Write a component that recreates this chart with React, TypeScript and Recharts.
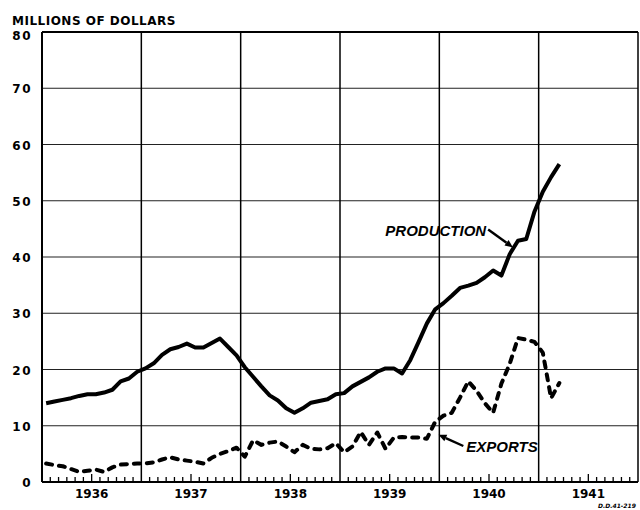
import { LineChart, Line, XAxis, YAxis, CartesianGrid, ReferenceLine } from 'recharts';

// Monthly values, Jan 1936 .. Mar 1941 (millions of dollars)
const production = [
  14.0, 14.3, 14.6, 14.9, 15.3, 15.6, 15.6, 15.9, 16.4, 17.9, 18.4, 19.6,
  20.2, 21.1, 22.6, 23.6, 24.0, 24.6, 23.9, 23.9, 24.7, 25.5, 24.0, 22.5,
  20.4, 18.7, 17.0, 15.4, 14.5, 13.1, 12.3, 13.1, 14.1, 14.4, 14.7, 15.6,
  15.8, 17.0, 17.8, 18.6, 19.6, 20.2, 20.2, 19.3, 21.7, 24.9, 28.2, 30.7,
  31.8, 33.1, 34.5, 34.9, 35.4, 36.4, 37.6, 36.7, 40.5, 42.9, 43.2, 48.1,
  51.6, 54.2, 56.5,
];

const exports = [
  3.3, 3.0, 2.8, 2.3, 1.8, 2.0, 2.2, 1.8, 2.6, 3.1, 3.2, 3.3,
  3.3, 3.5, 4.0, 4.4, 4.0, 3.8, 3.6, 3.3, 4.3, 5.0, 5.5, 6.1,
  4.5, 7.4, 6.6, 7.0, 7.2, 6.3, 5.3, 6.6, 5.9, 5.8, 6.0, 6.9,
  5.3, 6.3, 8.9, 6.6, 8.8, 5.9, 7.9, 8.0, 7.9, 7.9, 7.7, 10.7,
  11.8, 12.3, 15.0, 17.9, 16.2, 14.0, 12.3, 17.5, 21.0, 25.6, 25.3, 24.9,
  23.0, 14.9, 17.6,
];

const years = ['1936', '1937', '1938', '1939', '1940', '1941'];
const yTicks = [0, 10, 20, 30, 40, 50, 60, 70, 80];
const monthTicks = Array.from({ length: 73 }, (_, i) => i);
const yearBounds = [12, 24, 36, 48, 60];

// x is months since Jan 1936, plotted at the middle of each month
const data = production.map((p, i) => ({ m: i + 0.5, production: p, exports: exports[i] }));

const FONT = '"DejaVu Sans", sans-serif';

function MonthTick(props: any) {
  const { x, y, payload } = props;
  const v = payload.value as number;
  const mid = v % 12 === 6;
  const edge = v % 12 === 0;
  return (
    <g>
      {!edge && (
        <line x1={x} x2={x} y1={y} y2={y - (mid ? 8 : 5)} stroke="#000" strokeWidth={1.3} />
      )}
      {mid && (
        <text
          x={x}
          y={y + 16}
          textAnchor="middle"
          fontFamily={FONT}
          fontWeight="bold"
          fontSize={12}
          fill="#000"
        >
          {years[Math.floor(v / 12)]}
        </text>
      )}
    </g>
  );
}

function ValueTick(props: any) {
  const { x, y, payload } = props;
  return (
    <text
      x={x}
      y={y + (payload.value === 80 ? 4 : 1)}
      dy="0.35em"
      textAnchor="end"
      fontFamily={FONT}
      fontWeight="bold"
      fontSize={12}
      letterSpacing={1.5}
      fill="#000"
    >
      {payload.value}
    </text>
  );
}

// annotation: label text + arrow pointing at the series
function arrowShape(label: string, side: 'left' | 'right') {
  return (p: any) => {
    const { x1, y1, x2, y2 } = p;
    const ang = Math.atan2(y2 - y1, x2 - x1);
    const len = 8;
    const w = 3.5;
    const bx = x2 - len * Math.cos(ang);
    const by = y2 - len * Math.sin(ang);
    const px = -Math.sin(ang) * w;
    const py = Math.cos(ang) * w;
    return (
      <g>
        <line x1={x1} y1={y1} x2={bx} y2={by} stroke="#000" strokeWidth={2.4} />
        <polygon points={`${x2},${y2} ${bx + px},${by + py} ${bx - px},${by - py}`} fill="#000" />
        <text
          x={side === 'left' ? x1 - 2 : x1 + 3}
          y={y1 + 1}
          dy="0.35em"
          textAnchor={side === 'left' ? 'end' : 'start'}
          fontFamily='"Liberation Sans", Arial, sans-serif'
          fontStyle="italic"
          fontWeight="bold"
          fontSize={15}
          fill="#000"
        >
          {label}
        </text>
      </g>
    );
  };
}

export default function App() {
  return (
    <div style={{ position: 'absolute', left: 0, top: 0, width: 640, height: 510, background: '#fff' }}>
      <div
        style={{
          position: 'absolute',
          left: 12,
          top: 14,
          fontFamily: FONT,
          fontWeight: 'bold',
          fontSize: 12,
          letterSpacing: 0.5,
          lineHeight: '14px',
        }}
      >
        MILLIONS OF DOLLARS
      </div>
      <LineChart
        width={640}
        height={510}
        data={data}
        margin={{ top: 32, right: 2, bottom: 0, left: 0 }}
      >
        <CartesianGrid vertical={false} stroke="#222" strokeWidth={1.2} />
        {yearBounds.map((b) => (
          <ReferenceLine key={b} x={b} stroke="#000" strokeWidth={1.5} />
        ))}
        <ReferenceLine y={80} stroke="#000" strokeWidth={2} />
        <ReferenceLine x={72} stroke="#000" strokeWidth={1.5} />
        <XAxis
          dataKey="m"
          type="number"
          domain={[0, 72]}
          ticks={monthTicks}
          interval={0}
          height={28}
          tickLine={false}
          tickSize={0}
          tickMargin={0}
          axisLine={{ stroke: '#000', strokeWidth: 2 }}
          tick={<MonthTick />}
        />
        <YAxis
          type="number"
          domain={[0, 80]}
          ticks={yTicks}
          width={42}
          tickLine={false}
          tickSize={0}
          tickMargin={10}
          axisLine={{ stroke: '#000', strokeWidth: 2 }}
          tick={<ValueTick />}
        />
        <Line
          type="linear"
          dataKey="production"
          stroke="#000"
          strokeWidth={4}
          strokeLinejoin="round"
          dot={false}
          isAnimationActive={false}
        />
        <Line
          type="linear"
          dataKey="exports"
          stroke="#000"
          strokeWidth={4}
          strokeDasharray="6 7"
          strokeLinecap="round"
          strokeLinejoin="round"
          dot={false}
          isAnimationActive={false}
        />
        <ReferenceLine
          segment={[{ x: 53.9, y: 44.9 }, { x: 56.9, y: 41.7 }]}
          shape={arrowShape('PRODUCTION', 'left')}
        />
        <ReferenceLine
          segment={[{ x: 50.9, y: 6.4 }, { x: 47.9, y: 8.4 }]}
          shape={arrowShape('EXPORTS', 'right')}
        />
      </LineChart>
      <div
        style={{
          position: 'absolute',
          left: 598,
          top: 502,
          fontFamily: FONT,
          fontStyle: 'italic',
          fontWeight: 'bold',
          fontSize: 6,
          lineHeight: '7px',
          whiteSpace: 'nowrap',
        }}
      >
        D.D.41-219
      </div>
    </div>
  );
}
